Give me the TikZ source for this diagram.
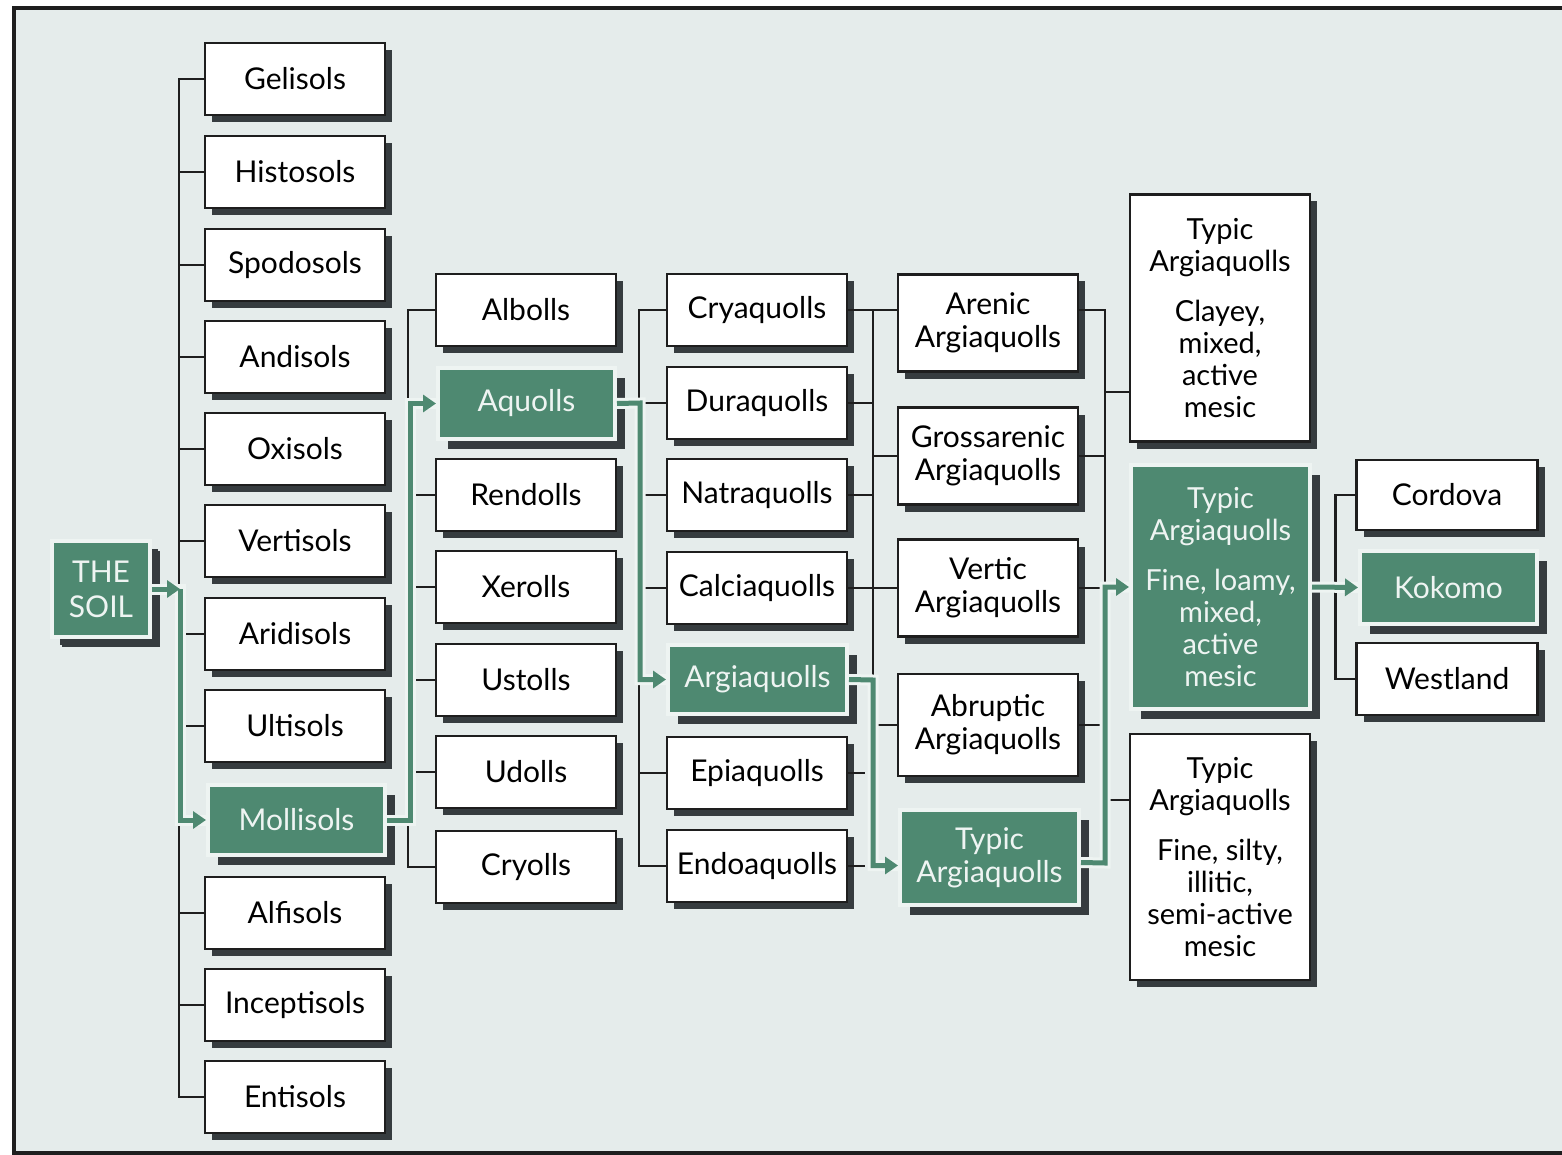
\documentclass[tikz,border=0pt]{standalone}
\usepackage{fontspec}
\setmainfont{Lato}
\usetikzlibrary{shadows,arrows.meta}
\definecolor{bgc}{HTML}{E5ECEB}
\definecolor{gr}{HTML}{4E8971}
\definecolor{sh}{HTML}{363C3F}
\definecolor{halo}{HTML}{EEF4F2}
\definecolor{ln}{HTML}{1E1E1E}
\begin{document}
\begin{tikzpicture}[x=1pt,y=-1pt,
  wbox/.style={draw=ln,line width=2.2pt,fill=white,text=black,align=center,inner sep=0pt,
    minimum width=180pt,minimum height=72pt,font=\fontsize{30}{33}\selectfont,
    drop shadow={shadow xshift=7pt,shadow yshift=-7pt,fill=sh,opacity=1}},
  gbox/.style={draw=halo,line width=4pt,fill=gr,text=halo,align=center,inner sep=0pt,
    minimum width=177pt,minimum height=71pt,font=\fontsize{30}{33}\selectfont,
    drop shadow={shadow xshift=10pt,shadow yshift=-10pt,fill=sh,opacity=1}},
  famtext/.style={font=\fontsize{29}{32}\selectfont},
  bline/.style={draw=ln,line width=2.2pt},
  hline/.style={draw=halo,line width=11pt},
  gline/.style={draw=gr,line width=5pt,-{Triangle[length=13pt,width=17pt]}},
]
\useasboundingbox (0,0) rectangle (1562,1155);
\fill[white] (0,0) rectangle (1562,1155);
\fill[bgc] (14,8) rectangle (1562,1153);
\draw[ln,line width=4pt] (1562,8) -- (14,8) -- (14,1153) -- (1562,1153);

% ---- column 1: orders
\node[gbox,minimum width=98pt,minimum height=96pt,font=\fontsize{30}{35}\selectfont,
  drop shadow={shadow xshift=8pt,shadow yshift=-8pt,fill=sh,opacity=1}] (soil) at (101,589) {THE\\SOIL};
\node[wbox] (gel) at (295,79) {Gelisols};
\node[wbox] (his) at (295,172) {Histosols};
\node[wbox] (spo) at (295,265) {Spodosols};
\node[wbox] (and) at (295,357) {Andisols};
\node[wbox] (oxi) at (295,449) {Oxisols};
\node[wbox] (ver) at (295,541) {Vertisols};
\node[wbox] (ari) at (295,634) {Aridisols};
\node[wbox] (ult) at (295,726) {Ultisols};
\node[gbox,minimum height=70pt] (mol) at (296.5,820) {Mollisols};
\node[wbox] (alf) at (295,913) {Alfisols};
\node[wbox] (inc) at (295,1005) {Inceptisols};
\node[wbox] (ent) at (295,1097) {Entisols};

% ---- column 2: suborders
\node[wbox] (alb) at (526,310) {Albolls};
\node[gbox] (aqu) at (526.5,403.5) {Aquolls};
\node[wbox] (ren) at (526,495) {Rendolls};
\node[wbox] (xer) at (526,587) {Xerolls};
\node[wbox] (ust) at (526,680) {Ustolls};
\node[wbox] (udo) at (526,772) {Udolls};
\node[wbox] (cry) at (526,867) {Cryolls};

% ---- column 3: great groups
\node[wbox] (cyq) at (757,310) {Cryaquolls};
\node[wbox] (dur) at (757,403) {Duraquolls};
\node[wbox] (nat) at (757,495) {Natraquolls};
\node[wbox] (cal) at (757,588) {Calciaquolls};
\node[gbox,minimum width=179pt,minimum height=69pt] (arg) at (757.5,679.5) {Argiaquolls};
\node[wbox] (epi) at (757,773) {Epiaquolls};
\node[wbox] (endo) at (757,866) {Endoaquolls};

% ---- column 4: subgroups
\node[wbox,minimum height=97pt] (are) at (988,323) {Arenic\\Argiaquolls};
\node[wbox,minimum height=97pt] (gro) at (988,456) {Grossarenic\\Argiaquolls};
\node[wbox,minimum height=97pt] (vrt) at (988,588) {Vertic\\Argiaquolls};
\node[wbox,minimum height=102pt] (abr) at (988,725) {Abruptic\\Argiaquolls};
\node[gbox,minimum width=179pt,minimum height=95pt] (typ) at (989.5,857.5) {Typic\\Argiaquolls};

% ---- column 5: families
\node[wbox,famtext,minimum height=247pt] (clay) at (1220,318)
  {Typic\\Argiaquolls\\[18pt]Clayey,\\mixed,\\active\\mesic};
\node[gbox,famtext,minimum width=179pt,minimum height=244pt] (loam) at (1220.5,587)
  {Typic\\Argiaquolls\\[18pt]Fine, loamy,\\mixed,\\active\\mesic};
\node[wbox,famtext,minimum height=246pt] (silt) at (1220,857)
  {Typic\\Argiaquolls\\[18pt]Fine, silty,\\illitic,\\semi-active\\mesic};

% ---- column 6: series
\node[wbox,minimum width=181pt,minimum height=70pt] (cor) at (1447,495) {Cordova};
\node[gbox,minimum height=73pt] (kok) at (1448.5,587.5) {Kokomo};
\node[wbox,minimum width=181pt] (wes) at (1447,679) {Westland};

% ---- junction coordinates
\coordinate (j1) at (180,589);
\coordinate (j2) at (410,820);
\coordinate (j3) at (640,403);
\coordinate (j4) at (873,680);
\coordinate (j5) at (1105,863);
\coordinate (j6) at (1105,587);
\coordinate (k1) at (1105,392);
\coordinate (k2) at (1105,800);

% ---- black connectors
\draw[bline] (gel.west) -- ++(-25,0) |- (ent.west);
\foreach \n in {his,spo,and,oxi,ver,ari,ult,alf,inc} \draw[bline] (\n.west) -- ++(-25,0);
\draw[bline] (alb.west) -- ++(-27,0) |- (cry.west);
\foreach \n in {ren,xer,ust,udo} \draw[bline] (\n.west) -- ++(-27,0);
\draw[bline] (cyq.west) -- ++(-27,0) |- (endo.west);
\foreach \n in {dur,nat,cal,epi} \draw[bline] (\n.west) -- ++(-27,0);
\draw[bline] (cyq.east) -- (cyq.east -| are.west);
\draw[bline] (cyq.east -| j4) -- (j4);
\draw[bline] (dur.east) -- (dur.east -| j4);
\draw[bline] (nat.east) -- (nat.east -| j4);
\draw[bline] (cal.east) -- (vrt.west);
\draw[bline] (gro.west) -- (gro.west -| j4);
\draw[bline] (abr.west) -- (abr.west -| j4);
\draw[bline] (epi.east) -- ++(17,0);
\draw[bline] (endo.east) -- ++(17,0);
\draw[bline] ([yshift=13pt]are.east) -- ([yshift=13pt]are.east -| j6) -- (j6);
\draw[bline] (gro.east) -- (gro.east -| j6);
\draw[bline] (k1) -- (k1 -| clay.west);
\draw[bline] (vrt.east) -- (vrt.east -| j6);
\draw[bline] (abr.east) -- (abr.east -| j6);
\draw[bline] (k2) -- (k2 -| silt.west);
\draw[bline] (cor.west) -- ++(-20,0) |- (wes.west);

% ---- green path: halo
\draw[hline] (soil.east) -- (j1) |- (mol.west);
\draw[hline] (mol.east) -- (j2) |- (aqu.west);
\draw[hline] (aqu.east) -- (j3) |- (arg.west);
\draw[hline] (arg.east) -- (j4) |- ([yshift=-8pt]typ.west);
\draw[hline] ([yshift=-5pt]typ.east) -- (j5) -- (j6) -- (loam.west);
\draw[hline] (loam.east) -- (kok.west);
% ---- green path
\draw[gline] (soil.east) -- (j1);
\draw[gline] (j1) |- (mol.west);
\draw[gline] (mol.east) -- (j2) |- (aqu.west);
\draw[gline] (aqu.east) -- (j3) |- (arg.west);
\draw[gline] (arg.east) -- (j4) |- ([yshift=-8pt]typ.west);
\draw[gline] ([yshift=-5pt]typ.east) -- (j5) -- (j6) -- (loam.west);
\draw[gline] (loam.east) -- (kok.west);
\end{tikzpicture}
\end{document}
